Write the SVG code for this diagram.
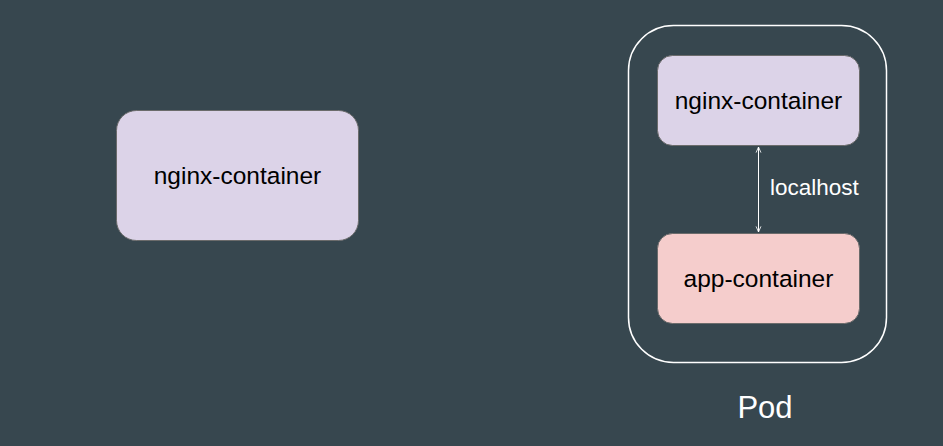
<svg xmlns="http://www.w3.org/2000/svg" width="943" height="446" viewBox="0 0 943 446">
<style>
.lbl{font-family:"Liberation Sans",Arial,sans-serif;font-size:24.5px;fill:#000;text-anchor:middle}
.wt{font-family:"Liberation Sans",Arial,sans-serif;fill:#fff}
.purple{fill:#dcd3e8;stroke:#6b6b6b;stroke-width:1}
.pink{fill:#f5cdcc;stroke:#6b6b6b;stroke-width:1}
</style>
<defs>
<marker id="ah" viewBox="0 0 10 10" refX="9" refY="5" markerWidth="7" markerHeight="7" orient="auto-start-reverse" markerUnits="userSpaceOnUse">
<path d="M1,1.5 L9,5 L1,8.5" fill="none" stroke="#fff" stroke-width="1.2"/>
</marker>
</defs>
<rect width="943" height="446" fill="#37474f"/>
<g id="pod">
<rect x="628.5" y="25.5" width="258" height="337" rx="45" ry="45" fill="none" stroke="#fff" stroke-width="1.5"/>
<text class="wt" x="765" y="418" font-size="31" text-anchor="middle">Pod</text>
</g>
<g id="nginx-left">
<rect class="purple" x="116.5" y="110.5" width="242" height="130" rx="20" ry="20"/>
<text class="lbl" x="237.5" y="184">nginx-container</text>
</g>
<g id="nginx-pod">
<rect class="purple" x="657.5" y="55.5" width="202" height="90" rx="15" ry="15"/>
<text class="lbl" x="758.5" y="109">nginx-container</text>
</g>
<g id="app-pod">
<rect class="pink" x="657.5" y="233.5" width="202" height="90" rx="15" ry="15"/>
<text class="lbl" x="758.5" y="287">app-container</text>
</g>
<g id="connectors">
<line x1="758.5" y1="147" x2="758.5" y2="232" stroke="#fff" stroke-width="1" marker-start="url(#ah)" marker-end="url(#ah)"/>
<text class="wt" x="770" y="195" font-size="22.5">localhost</text>
</g>
</svg>
